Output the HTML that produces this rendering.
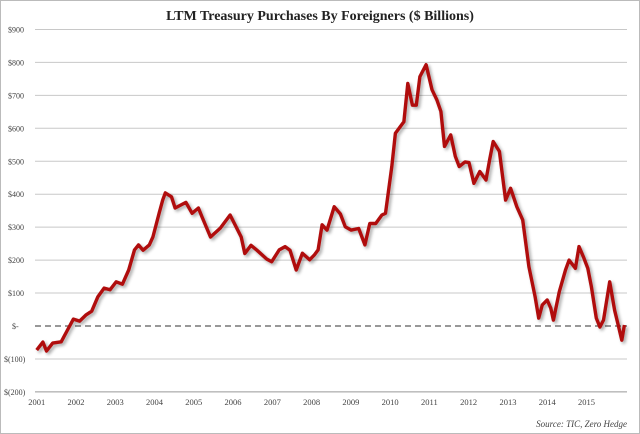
<!DOCTYPE html>
<html><head><meta charset="utf-8"><style>
body{margin:0;background:#fff}
svg{display:block}
text{font-family:"Liberation Serif",serif}
</style></head><body>
<svg id="chart" width="640" height="434" viewBox="0 0 640 434">
<defs><filter id="sh" x="-5%" y="-5%" width="110%" height="110%"><feGaussianBlur in="SourceAlpha" stdDeviation="1.5"/><feOffset dx="2" dy="2"/><feComponentTransfer><feFuncA type="linear" slope="0.35"/></feComponentTransfer><feMerge><feMergeNode/><feMergeNode in="SourceGraphic"/></feMerge></filter></defs>
<rect x="0.5" y="0.5" width="639" height="433" fill="#fff" stroke="#bbb"/>
<text x="320" y="20" text-anchor="middle" font-size="14" font-weight="bold" fill="#222">LTM Treasury Purchases By Foreigners ($ Billions)</text>
<g id="grid"></g><g id="ylabels"></g><g id="xlabels"></g>
<line id="zero" stroke="#777" stroke-width="1.5" stroke-dasharray="6,4"/>
<path id="line" fill="none" stroke="#b00d0d" stroke-width="3.4" stroke-linejoin="round" filter="url(#sh)"/>
<text x="627" y="427" text-anchor="end" font-size="9" font-style="italic" fill="#444">Source: TIC, Zero Hedge</text>
</svg>
<script>
const months=[0,1.9,3,4.9,7.5,9.4,11.2,13.1,15,16.8,18.7,20.6,22.4,24.3,26.2,28.1,29.9,31.1,32.5,34.4,35.5,37.4,38.5,39.3,41.2,42.3,45.6,47.5,49.4,50.5,53.1,56.1,59.1,62.5,63.6,65.5,67.3,70.3,71.8,74.1,75.9,77.4,79.3,81.2,83.4,84.9,86,87.2,88.7,90.9,92.8,94.3,96.1,98.4,100.3,101.8,103.6,105.5,106.6,108.5,109.6,112.2,113.4,114.8,116,117.1,119,120.8,122.3,123.5,124.6,126.5,127.9,129.1,130.9,132.1,133.6,135.4,137.3,138.4,139.5,141.4,142.9,143.3,144.8,146.7,148.5,150.4,152.3,153.4,154.5,156,157.1,157.9,159.7,161.6,162.7,164.6,165.7,167.2,168.4,169.5,171,172.1,173.2,175.1,176.6,177.7,178.8,179.6];
const values=[-73,-49,-76,-52,-48,-12,21,15,33,45,89,115,110,134,127,170,231,246,230,246,270,342,382,404,392,358,375,342,358,331,270,297,337,270,220,245,230,203,195,231,241,230,170,221,201,216,231,307,291,362,340,301,291,296,246,311,311,337,342,484,585,620,736,670,670,757,793,717,686,651,545,580,515,484,498,496,433,469,443,504,560,530,413,382,418,362,322,180,89,24,64,79,54,18,104,170,200,175,241,206,175,119,24,-3,18,134,48,3,-43,3,-18];
const yTicks=[900,800,700,600,500,400,300,200,100,0,-100,-200];
const yTickLabels=["$900","$800","$700","$600","$500","$400","$300","$200","$100","$-","$(100)","$(200)"];
const years=[2001,2002,2003,2004,2005,2006,2007,2008,2009,2010,2011,2012,2013,2014,2015];
const NS="http://www.w3.org/2000/svg";
const y=v=>326-v*0.3295;
const X0=36.7,YW=39.27;
const xm=m=>X0+m*YW/12;
const xy=yr=>X0+(yr-2001)*YW;
const grid=document.getElementById('grid'),yl=document.getElementById('ylabels'),xl=document.getElementById('xlabels');
yTicks.forEach((t,i)=>{
  if(t!==0){const l=document.createElementNS(NS,'line');
  
  
  l.setAttribute('x1',35);l.setAttribute('x2',627);l.setAttribute('y1',y(t));l.setAttribute('y2',y(t));
  l.setAttribute('stroke',t===-200?'#999':'#c8c8c8');l.setAttribute('stroke-width','1');grid.appendChild(l);}
  const tx=document.createElementNS(NS,'text');
  
  
  tx.setAttribute('x',t===0?12:(t<0?4:8));tx.setAttribute('y',y(t)+3);tx.setAttribute('font-size','8');tx.setAttribute('fill','#444');
  tx.textContent=yTickLabels[i];yl.appendChild(tx);
});
years.forEach(yr=>{
  const tx=document.createElementNS(NS,'text');
  
  
  tx.setAttribute('x',xy(yr));tx.setAttribute('y',405);tx.setAttribute('font-size','8.5');tx.setAttribute('fill','#444');tx.setAttribute('text-anchor','middle');
  tx.textContent=yr;xl.appendChild(tx);
});
const z=document.getElementById('zero');
z.setAttribute('x1',35);z.setAttribute('x2',627);z.setAttribute('y1',y(0));z.setAttribute('y2',y(0));
document.getElementById('line').setAttribute('d',values.map((v,i)=>(i?'L':'M')+xm(months[i]).toFixed(1)+' '+y(v).toFixed(1)).join(' '));
</script>
</body></html>
